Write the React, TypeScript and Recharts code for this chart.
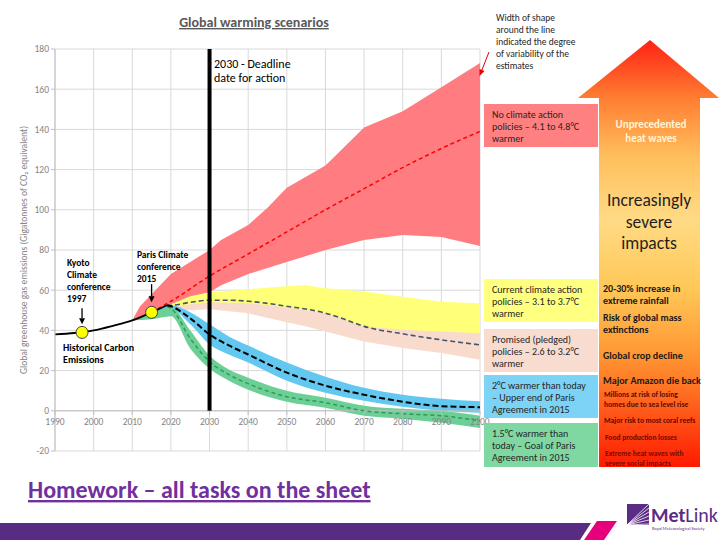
import React from 'react'
import {
  ComposedChart, Area, Line, XAxis, YAxis, CartesianGrid,
  ReferenceLine, ReferenceDot,
} from 'recharts'

const FONT = 'Carlito, Lato, "Liberation Sans", sans-serif'

// ---- data ----
const yearTicks = [1990, 2000, 2010, 2020, 2030, 2040, 2050, 2060, 2070, 2080, 2090, 2100]
const valueTicks = [-20, 0, 20, 40, 60, 80, 100, 120, 140, 160, 180]

const histYears = [1990, 1995, 2000, 2005, 2010, 2015, 2019]
const histVals = [38, 38.7, 40, 42.3, 45, 49, 52.5]

const redYears = [2010, 2012, 2015, 2020, 2025, 2030, 2033, 2040, 2045, 2050, 2060, 2070, 2080, 2090, 2100]
const redHigh = [45, 52, 58, 68, 74, 80, 85, 92.5, 101, 111, 122, 141, 149, 161, 173]
const redLow = [45, 46, 49, 53, 56, 59, 62.5, 68, 71, 74, 80, 85, 87.5, 86.5, 82]

const redMidYears = [2015, 2020, 2030, 2040, 2050, 2060, 2070, 2080, 2090, 2100]
const redMid = [49, 54.5, 67, 78, 89, 100, 110.5, 121, 130.5, 139]

const yelYears = [2015, 2020, 2025, 2030, 2040, 2050, 2055, 2060, 2070, 2080, 2090, 2100]
const yelHigh = [49, 53, 57, 59, 60.5, 62, 62.5, 61, 59.3, 56.8, 54.3, 53.5]
const yelLow = [49, 51.5, 53, 54, 53.5, 51.5, 50, 48.5, 42, 40.3, 39.5, 38.6]
const peachHigh = [49, 52, 53.5, 54.5, 54, 52, 50.5, 49, 42.5, 41, 40, 39]
const peachLow = [49, 50, 50, 50.5, 48.5, 44, 42, 39.5, 34.5, 31.2, 28.7, 25.4]

const navyYears = [2019, 2020, 2025, 2030, 2035, 2040, 2050, 2060, 2065, 2070, 2080, 2090, 2100]
const navyVals = [52.5, 52.5, 54, 55, 55, 54.5, 52, 48.6, 45.5, 42, 38.3, 35.3, 32.8]

const blueYears = [2015, 2020, 2025, 2030, 2035, 2040, 2050, 2060, 2070, 2080, 2090, 2100]
const blueHigh = [49.5, 52.5, 49, 43, 37, 32.5, 24, 17, 11.5, 8, 6, 4.7]
const blueLow = [48.5, 50.5, 43, 33, 28, 24, 15, 9, 5, 2, 0, -1]

const dashYears = [2019, 2020, 2025, 2030, 2035, 2040, 2050, 2060, 2070, 2080, 2090, 2100]
const blackDash = [52.5, 52, 46, 38, 32.5, 28, 19, 12.5, 8, 4.5, 2.3, 1.8]
const greenDash = [52, 51, 36, 24.5, 18, 13.5, 7, 4, 0, -1.5, -2.5, -5]

const greenYears = [2010, 2015, 2020, 2025, 2030, 2035, 2040, 2050, 2060, 2070, 2080, 2090, 2100]
const greenHigh = [45, 48.5, 51.5, 40, 27.5, 20.5, 16.5, 10, 6.5, 2.5, 1, 0, -2.5]
const greenLow = [45, 45.5, 47, 31, 21, 15, 10.5, 4.5, 1.5, -2.5, -4, -6, -8.5]

// ---- layout ----
const PLOT_LEFT = 55
const PLOT_RIGHT = 480
const PLOT_TOP = 49
const PLOT_BOTTOM = 451
const Y_MIN = -20
const Y_MAX = 180
const Y0 = PLOT_TOP + ((PLOT_BOTTOM - PLOT_TOP) * Y_MAX) / (Y_MAX - Y_MIN)

const line = (years: number[], vals: number[]) => years.map((year, i) => ({ year, v: vals[i] }))
const band = (years: number[], lo: number[], hi: number[]) =>
  years.map((year, i) => ({ year, r: [lo[i], hi[i]] }))

function YearTick({ x, payload }: any) {
  return (
    <g>
      <line x1={x} x2={x} y1={Y0} y2={Y0 + 4} stroke="#BFBFBF" />
      <text x={x} y={Y0 + 14} textAnchor="middle" fontSize={9.5} fill="#858585" fontFamily={FONT}>
        {payload.value}
      </text>
    </g>
  )
}

function ArrowShape(p: any) {
  const { x1, y1, x2, y2 } = p
  const a = Math.atan2(y2 - y1, x2 - x1)
  const L = 6, W = 3
  const bx = x2 - L * Math.cos(a), by = y2 - L * Math.sin(a)
  const pts = `${x2},${y2} ${bx + W * Math.sin(a)},${by - W * Math.cos(a)} ${bx - W * Math.sin(a)},${by + W * Math.cos(a)}`
  return (
    <g>
      <line x1={x1} y1={y1} x2={bx} y2={by} stroke="#000" strokeWidth={1.3} />
      <polygon points={pts} fill="#000" />
    </g>
  )
}

type T = { t: string; x: number; y: number; s: number; w?: number; c?: string; a?: 'start' | 'middle' }
const Txt = ({ t, x, y, s, w = 400, c = '#262626', a = 'start' }: T) => (
  <text x={x} y={y} fontSize={s} fontWeight={w} fill={c} textAnchor={a} fontFamily={FONT}>{t}</text>
)

const legendBoxes = [
  { y: 104, h: 43, fill: '#FF8080', lines: ['No climate action', 'policies – 4.1 to 4.8°C', 'warmer'] },
  { y: 279, h: 43, fill: '#FFFF80', lines: ['Current climate action', 'policies – 3.1 to 3.7°C', 'warmer'] },
  { y: 329, h: 43, fill: '#F9DCD0', lines: ['Promised (pledged)', 'policies – 2.6 to 3.2°C', 'warmer'] },
  { y: 375, h: 43, fill: '#7DD3F5', lines: ['2°C warmer than today', '– Upper end of Paris', 'Agreement in 2015'] },
  { y: 423, h: 44, fill: '#7FD8A2', lines: ['1.5°C warmer than', 'today – Goal of Paris', 'Agreement in 2015'] },
]

const impacts: T[] = [
  { t: '20-30% increase in', x: 603, y: 292, s: 10, w: 700, c: '#1A1A1A' },
  { t: 'extreme rainfall', x: 603, y: 304, s: 10, w: 700, c: '#1A1A1A' },
  { t: 'Risk of global mass', x: 603, y: 321, s: 10, w: 700, c: '#1A1A1A' },
  { t: 'extinctions', x: 603, y: 333, s: 10, w: 700, c: '#1A1A1A' },
  { t: 'Global crop decline', x: 603, y: 359, s: 10, w: 700, c: '#1A1A1A' },
  { t: 'Major Amazon die back', x: 603, y: 384, s: 10, w: 700, c: '#1A1A1A' },
  { t: 'Millions at risk of losing', x: 604, y: 397, s: 7.5, w: 700, c: '#5A0A00' },
  { t: 'homes due to sea level rise', x: 604, y: 407, s: 7.5, w: 700, c: '#5A0A00' },
  { t: 'Major risk to most coral reefs', x: 604, y: 423, s: 7.5, w: 700, c: '#5A0A00' },
  { t: 'Food production losses', x: 605, y: 440, s: 7.5, w: 700, c: '#6A0A00' },
  { t: 'Extreme heat waves with', x: 605, y: 456, s: 7.5, w: 700, c: '#7A0A00' },
  { t: 'severe social impacts', x: 605, y: 466, s: 7.5, w: 700, c: '#7A0A00' },
]

const notes: T[] = [
  { t: '2030 - Deadline', x: 214, y: 68, s: 12, c: '#000' },
  { t: 'date for action', x: 214, y: 82, s: 12, c: '#000' },
  { t: 'Width of shape', x: 496, y: 20.5, s: 9.5 },
  { t: 'around the line', x: 496, y: 32.5, s: 9.5 },
  { t: 'indicated the degree', x: 496, y: 44.5, s: 9.5 },
  { t: 'of variability of the', x: 496, y: 56.5, s: 9.5 },
  { t: 'estimates', x: 496, y: 68.5, s: 9.5 },
  { t: 'Kyoto', x: 67, y: 265.5, s: 9.5, w: 700, c: '#000' },
  { t: 'Climate', x: 67, y: 277.5, s: 9.5, w: 700, c: '#000' },
  { t: 'conference', x: 67, y: 289.5, s: 9.5, w: 700, c: '#000' },
  { t: '1997', x: 67, y: 301.5, s: 9.5, w: 700, c: '#000' },
  { t: 'Paris Climate', x: 137, y: 257.5, s: 9.5, w: 700, c: '#000' },
  { t: 'conference', x: 137, y: 269.5, s: 9.5, w: 700, c: '#000' },
  { t: '2015', x: 137, y: 282, s: 9.5, w: 700, c: '#000' },
  { t: 'Historical Carbon', x: 63, y: 350.5, s: 10, w: 700, c: '#000' },
  { t: 'Emissions', x: 63, y: 363, s: 10, w: 700, c: '#000' },
]

export default function App() {
  return (
    <div style={{ position: 'absolute', left: 0, top: 0, width: 720, height: 540, background: '#fff', fontFamily: FONT }}>
      <ComposedChart
        width={720}
        height={540}
        margin={{ top: PLOT_TOP, right: 720 - PLOT_RIGHT, bottom: 540 - PLOT_BOTTOM - 30, left: PLOT_LEFT - 40 }}
      >
        <CartesianGrid stroke="#D9D9D9" strokeWidth={1} />
        <XAxis
          type="number"
          dataKey="year"
          domain={[1990, 2100]}
          ticks={yearTicks}
          height={30}
          axisLine={false}
          tickLine={false}
          tick={<YearTick />}
          allowDataOverflow
        />
        <YAxis
          type="number"
          domain={[Y_MIN, Y_MAX]}
          ticks={valueTicks}
          width={40}
          tick={{ fontSize: 9.5, fill: '#858585', fontFamily: FONT }}
          axisLine={{ stroke: '#BFBFBF' }}
          tickLine={{ stroke: '#BFBFBF' }}
          tickSize={4}
          allowDataOverflow
        />
        <ReferenceLine y={0} stroke="#BFBFBF" />

        <Area data={band(redYears, redLow, redHigh)} dataKey="r" type="linear" fill="#FF7C80" fillOpacity={1} stroke="none" isAnimationActive={false} />
        <Area data={band(yelYears, peachLow, peachHigh)} dataKey="r" type="linear" fill="#F9DBCE" fillOpacity={1} stroke="none" isAnimationActive={false} />
        <Area data={band(yelYears, yelLow, yelHigh)} dataKey="r" type="linear" fill="#FFFF78" fillOpacity={1} stroke="none" isAnimationActive={false} />
        <Area data={band(blueYears, blueLow, blueHigh)} dataKey="r" type="monotone" fill="#62C8F0" fillOpacity={1} stroke="none" isAnimationActive={false} />
        <Area data={band(greenYears, greenLow, greenHigh)} dataKey="r" type="monotone" fill="#6CCF95" fillOpacity={1} stroke="none" isAnimationActive={false} />

        <Line data={line(redMidYears, redMid)} dataKey="v" type="monotone" stroke="#FF0000" strokeWidth={1.5} strokeDasharray="4 3" dot={false} isAnimationActive={false} />
        <Line data={line(navyYears, navyVals)} dataKey="v" type="monotone" stroke="#44546A" strokeWidth={1.6} strokeDasharray="5 3" dot={false} isAnimationActive={false} />
        <Line data={line(dashYears, greenDash)} dataKey="v" type="monotone" stroke="#2E9A5A" strokeWidth={1.5} strokeDasharray="4 3" dot={false} isAnimationActive={false} />
        <Line data={line(dashYears, blackDash)} dataKey="v" type="monotone" stroke="#000" strokeWidth={2} strokeDasharray="6 3" dot={false} isAnimationActive={false} />
        <Line data={line(histYears, histVals)} dataKey="v" type="monotone" stroke="#000" strokeWidth={1.8} dot={false} isAnimationActive={false} />

        <ReferenceLine segment={[{ x: 2030, y: 0 }, { x: 2030, y: 180 }]} stroke="#000" strokeWidth={4} />
        <ReferenceLine segment={[{ x: 1997, y: 51 }, { x: 1997, y: 43 }]} shape={ArrowShape} />
        <ReferenceLine segment={[{ x: 2015, y: 63 }, { x: 2015, y: 54 }]} shape={ArrowShape} />
        <ReferenceDot x={1997} y={39} r={6} fill="#FFFF00" stroke="#404040" strokeWidth={1} />
        <ReferenceDot x={2015} y={49} r={6} fill="#FFFF00" stroke="#404040" strokeWidth={1} />
      </ComposedChart>

      <svg width={720} height={540} style={{ position: 'absolute', left: 0, top: 0, pointerEvents: 'none' }}>
        <defs>
          <linearGradient id="heat" x1="0" y1="40" x2="0" y2="467" gradientUnits="userSpaceOnUse">
            <stop offset="0" stopColor="#FF2216" />
            <stop offset="0.13" stopColor="#FF7A30" />
            <stop offset="0.27" stopColor="#FFBE5C" />
            <stop offset="0.42" stopColor="#FFDB85" />
            <stop offset="0.58" stopColor="#FFC858" />
            <stop offset="0.74" stopColor="#FF9632" />
            <stop offset="0.88" stopColor="#FF5418" />
            <stop offset="1" stopColor="#FF1A00" />
          </linearGradient>
        </defs>

        <text x={254} y={27} textAnchor="middle" fontSize={14} fontWeight={700} fill="#595959" fontFamily={FONT} style={{ textDecoration: 'underline' }}>
          Global warming scenarios
        </text>

        <text transform="translate(27,250) rotate(-90)" textAnchor="middle" fontSize={9.5} fill="#858585" fontFamily={FONT}>
          Global greenhouse gas emissions (Gigatonnes of CO₂ equivalent)
        </text>

        {notes.map((n, i) => <Txt key={i} {...n} />)}

        <line x1={489} y1={52} x2={481.5} y2={71} stroke="#E00000" strokeWidth={1} />
        <polygon points="479.5,76 479.5,69 484.5,71" fill="#E00000" />

        {legendBoxes.map((b, i) => (
          <g key={i}>
            <rect x={484} y={b.y} width={114} height={b.h} fill={b.fill} />
            {b.lines.map((l, j) => (
              <Txt key={j} t={l} x={492} y={b.y + 13.5 + j * 12.2} s={10} />
            ))}
          </g>
        ))}

        <polygon points="650,40 719,98 700,98 700,467 599,467 599,98 578,98" fill="url(#heat)" />
        <Txt t="Unprecedented" x={651} y={128} s={11} w={700} c="#FFF4D6" a="middle" />
        <Txt t="heat waves" x={651} y={142} s={11} w={700} c="#FFF4D6" a="middle" />
        <Txt t="Increasingly" x={649} y={206} s={17.5} c="#1F1F1F" a="middle" />
        <Txt t="severe" x={649} y={228} s={17.5} c="#1F1F1F" a="middle" />
        <Txt t="impacts" x={649} y={249} s={17.5} c="#1F1F1F" a="middle" />
        {impacts.map((n, i) => <Txt key={i} {...n} />)}

        <text x={28} y={498} fontSize={24} fontWeight={700} fill="#7030A0" fontFamily={FONT} style={{ textDecoration: 'underline' }}>
          Homework – all tasks on the sheet
        </text>

        <polygon points="0,523 591,523 580,540 0,540" fill="#582C83" />
        <polygon points="597,521 617,521 604,540 584,540" fill="#E6007E" />
        <rect x={627} y={504} width={22} height={21} fill="#5B2C86" />
        {[0, 1, 2, 3, 4, 5].map(k => (
          <line key={k} x1={627} y1={525} x2={649} y2={504 + k * 4} stroke="#fff" strokeWidth={0.8} />
        ))}
        <text x={651} y={522} fontSize={20} fill="#5B2C86" fontFamily={FONT}>
          <tspan fontWeight={700}>Met</tspan><tspan>Link</tspan>
        </text>
        <text x={652} y={530} fontSize={4.5} fill="#5B2C86" fontFamily={FONT}>Royal Meteorological Society</text>
      </svg>
    </div>
  )
}
